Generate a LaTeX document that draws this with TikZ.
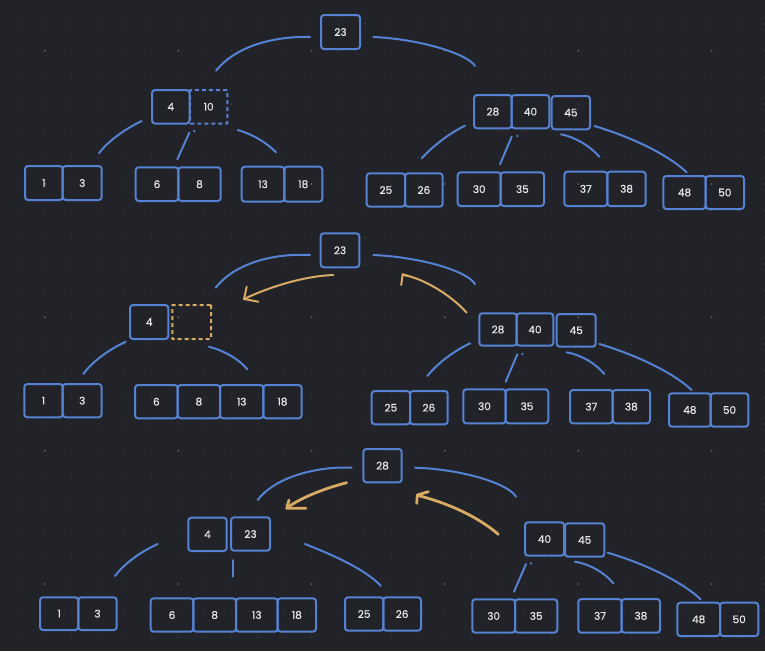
\documentclass[tikz,border=0pt]{standalone}
\usepackage{fontspec}
\setmainfont{Poppins}[AutoFakeBold=0.6]
\definecolor{bg}{RGB}{33,35,40}
\definecolor{griddot}{RGB}{66,68,74}
\definecolor{griddotmajor}{RGB}{110,112,118}
\definecolor{kblue}{RGB}{86,130,212}
\definecolor{korange}{RGB}{216,170,100}
\definecolor{ktext}{RGB}{232,232,232}
\tikzset{
  kbox/.style={draw=kblue, line width=2pt, rounded corners=3pt, inner sep=0pt,
    text=ktext, font=\fontsize{10.5}{12}\selectfont\bfseries},
  kdash/.style={dash pattern=on 4pt off 3pt, rounded corners=0.5pt},
  orangebox/.style={draw=korange},
  edge/.style={draw=kblue, line width=2pt, line cap=round},
  oarrow/.style={draw=korange, line width=2pt, line cap=round, line join=round},
  oarrowthick/.style={draw=korange, line width=2.8pt, line cap=round, line join=round},
}
\newcommand\kb[7][]{\node[kbox,#1,minimum width={(#4)-(#2)},minimum height={(#5)-(#3)}] (#6) at ({((#2)+(#4))/2},{((#3)+(#5))/2}) {#7};}
\newcommand\crv[6][edge]{\coordinate (#2a) at (#3); \coordinate (#2b) at (#6); \draw[#1] (#2a) .. controls (#4) and (#5) .. (#2b);}
\newcommand\seg[4][edge]{\coordinate (#2a) at (#3); \coordinate (#2b) at (#4); \draw[#1] (#2a) -- (#2b);}
\newcommand\kdot[2]{\coordinate (#1) at (#2); \fill[kblue] (#1) circle (1.3pt);}
\newcommand\tip[5][oarrow]{\coordinate (#2t) at (#3); \coordinate (#2l) at (#4); \coordinate (#2r) at (#5); \draw[#1] (#2l) -- (#2t) -- (#2r);}
\begin{document}
\begin{tikzpicture}[x=1pt,y=-1pt]
\fill[bg] (0,0) rectangle (765,651);
\useasboundingbox (0,0) rectangle (765,651);
% dot grid
\foreach \i in {0,...,28}{
  \foreach \j in {0,...,23}{
    \pgfmathtruncatemacro\mi{mod(\i,5)}
    \pgfmathtruncatemacro\mj{mod(\j,5)}
    \ifnum\mi=1 \ifnum\mj=1
      \fill[griddotmajor] ({18.3+26.667*\i},{24+26.667*\j}) circle (0.9pt);
    \else
      \fill[griddot] ({18.3+26.667*\i},{24+26.667*\j}) circle (0.8pt);
    \fi\else
      \fill[griddot] ({18.3+26.667*\i},{24+26.667*\j}) circle (0.8pt);
    \fi
  }
}
% ===== top tree =====
\kb{321}{15}{360}{49}{t23}{23}
\kb{152}{90}{189.5}{123.5}{t4}{4}
\kb[kdash]{190}{90}{227.3}{123.5}{t10}{10}
\kb{474}{95}{511.7}{128.3}{t28}{28}
\kb{511.7}{95}{549.3}{128.3}{t40}{40}
\kb{551.7}{96}{590}{129.3}{t45}{45}
\kb{25}{166}{62.7}{200}{t1}{1}
\kb{62.7}{166}{101.7}{200}{t3}{3}
\kb{135.7}{167.3}{178.3}{201}{t6}{6}
\kb{178.3}{167.3}{220.7}{201}{t8}{8}
\kb{241.7}{166.7}{284.3}{201.7}{t13}{13}
\kb{284.3}{166.7}{322.3}{201.7}{t18}{18}
\kb{366.7}{173.3}{405}{206.7}{t25}{25}
\kb{405}{173.3}{442.7}{206.7}{t26}{26}
\kb{457.7}{172.3}{500.7}{206}{t30}{30}
\kb{500.7}{172.3}{544}{206}{t35}{35}
\kb{564.3}{171.7}{607.3}{206}{t37}{37}
\kb{607.3}{171.7}{645.7}{206}{t38}{38}
\kb{663.3}{176}{705.7}{209}{t48}{48}
\kb{705.7}{176}{744}{209}{t50}{50}
\crv{tA}{216,70.7}{234,48}{270,36}{310,37}
\crv{tB}{373.3,37}{420,39}{468,54}{475,66}
\crv{tC}{141.7,121}{125,129}{108,141}{99,153.3}
\seg{tD}{189.3,132.7}{177.3,159.3}
\kdot{tDd}{194.3,131}
\crv{tE}{237.7,130}{252,134}{266,142}{276,152.3}
\crv{tF}{465,125.7}{448,134}{432,147}{421.7,158.3}
\seg{tG}{511.7,136.7}{500,164.3}
\kdot{tGd}{517.3,136}
\crv{tH}{561,134.3}{575,137}{590,146}{599.3,156.7}
\crv{tI}{594.3,126}{625,135}{665,152}{686.7,172.3}
% ===== middle tree =====
\kb{320.7}{233.3}{359.3}{267.3}{m23}{23}
\kb{130}{305}{168.3}{339}{m4}{4}
\kb[kdash,orangebox]{172.3}{305}{211}{339}{mE}{}
\kb{479.3}{313.3}{516.7}{345.7}{m28}{28}
\kb{516.7}{313.3}{553.3}{345.7}{m40}{40}
\kb{556.7}{314}{595.7}{346.7}{m45}{45}
\kb{24.3}{384}{62.7}{417.3}{m1}{1}
\kb{62.7}{384}{101.7}{417.3}{m3}{3}
\kb{135}{385}{177.7}{418.3}{m6}{6}
\kb{177.7}{385}{220}{418.3}{m8}{8}
\kb{220}{385}{263.3}{418.3}{m13}{13}
\kb{263.3}{385}{301.7}{418.3}{m18}{18}
\kb{371.7}{391}{410}{424.3}{m25}{25}
\kb{410}{391}{447.7}{424.3}{m26}{26}
\kb{463.3}{389.3}{505.7}{423.3}{m30}{30}
\kb{505.7}{389.3}{548.3}{423.3}{m35}{35}
\kb{570}{390}{612.7}{423.3}{m37}{37}
\kb{612.7}{390}{650}{423.3}{m38}{38}
\kb{669}{393.3}{710.7}{426.7}{m48}{48}
\kb{710.7}{393.3}{748.3}{426.7}{m50}{50}
\crv{mA}{215.7,287.7}{234,264}{272,253}{310,255}
\crv{mB}{373.3,255}{420,257}{468,271}{475,284.3}
\crv[oarrow]{mO1}{333.3,275}{305,276}{272,286}{245,298.5}
\tip{mO1h}{244,299}{246.7,286.7}{258.3,301.7}
\crv[oarrow]{mO2}{466.7,312.7}{450,294}{422,278}{403.5,275}
\tip{mO2h}{402.7,274.3}{401.2,285}{408.5,276}
\crv{mC}{125.7,341.7}{108,350}{92,362}{83.3,374}
\crv{mD}{209,346.7}{222,350}{238,358}{247.3,369.3}
\crv{mF}{470,343.3}{452,352}{437,364}{427.3,376}
\seg{mG}{517.3,354.3}{505.7,381.7}
\kdot{mGd}{522.3,354}
\crv{mH}{566.7,352.3}{582,355}{596,364}{604.3,374}
\crv{mI}{599.3,344}{630,353}{670,370}{691.7,390}
% ===== bottom tree =====
\kb{363.3}{449}{401.7}{482.3}{b28}{28}
\kb{188.3}{517.7}{226.7}{551}{b4}{4}
\kb{231}{517.3}{270}{550.7}{b23}{23}
\kb{525}{522.3}{564}{555.7}{b40}{40}
\kb{565}{523.3}{604.3}{556.7}{b45}{45}
\kb{40}{597.3}{78.3}{630}{b1}{1}
\kb{78.3}{597.3}{116.7}{630}{b3}{3}
\kb{150.7}{598.3}{193.3}{631.7}{b6}{6}
\kb{193.3}{598.3}{236}{631.7}{b8}{8}
\kb{236}{598.3}{277.7}{631.7}{b13}{13}
\kb{277.7}{598.3}{316}{631.7}{b18}{18}
\kb{345}{597.3}{383.3}{630.7}{b25}{25}
\kb{383.3}{597.3}{421}{630.7}{b26}{26}
\kb{472.3}{599.3}{515}{632.7}{b30}{30}
\kb{515}{599.3}{557.3}{632.7}{b35}{35}
\kb{578.3}{599}{621.7}{632.7}{b37}{37}
\kb{621.7}{599}{660}{632.7}{b38}{38}
\kb{677.3}{602.7}{720}{636}{b48}{48}
\kb{720}{602.7}{758.3}{636}{b50}{50}
\crv{bA}{257.7,500}{274,478}{315,466}{351.7,467.7}
\crv{bB}{415,467.7}{460,469}{508,483}{516,496.7}
\crv[oarrowthick]{bO1}{346.7,482.7}{326,488}{302,497}{287.5,507.5}
\tip[oarrowthick]{bO1h}{286.7,508.3}{289,500}{306,508.3}
\crv[oarrowthick]{bO2}{498.3,534.3}{476,515}{444,502}{418,495.5}
\tip[oarrowthick]{bO2h}{417.3,495}{416.7,503.3}{428.3,491.7}
\crv{bC}{157.7,544}{140,552}{124,564}{115,576}
\seg{bD}{233.3,560}{233.3,576.7}
\crv{bE}{305,544}{330,554}{364,568}{381,586}
\seg{bF}{526,564}{514,591.7}
\kdot{bFd}{531,563.3}
\crv{bG}{575,561.7}{590,564}{605,573}{613.3,583.3}
\crv{bH}{607.7,552.7}{640,562}{680,580}{700.7,599.3}
\end{tikzpicture}
\end{document}
